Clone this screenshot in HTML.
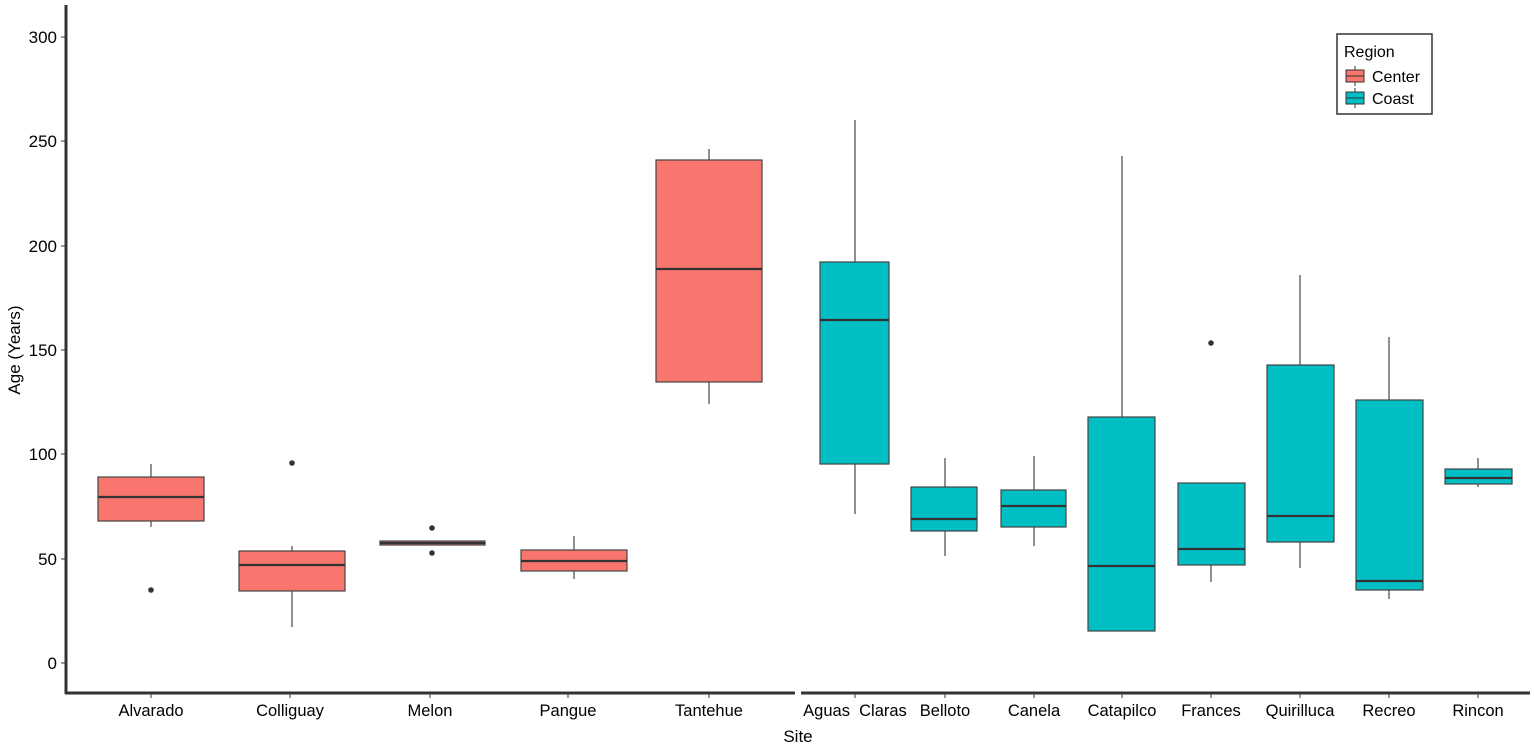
<!DOCTYPE html><html><head><style>body{margin:0;background:#fff}</style></head><body>
<svg width="1535" height="749" xmlns="http://www.w3.org/2000/svg" font-family="Liberation Sans, sans-serif">
<g stroke="#333" stroke-width="3" fill="none">
<line x1="66" y1="5" x2="66" y2="694"/>
<line x1="65" y1="693" x2="795" y2="693"/>
<line x1="801" y1="693" x2="1530" y2="693"/>
</g>
<g font-size="17" fill="#000" text-anchor="end">
<text x="57" y="43">300</text><text x="57" y="147">250</text><text x="57" y="252">200</text><text x="57" y="356">150</text><text x="57" y="460">100</text><text x="57" y="565">50</text><text x="57" y="669">0</text>
</g>
<g stroke="#333" stroke-width="1">
<line x1="61" y1="37" x2="65" y2="37"/><line x1="61" y1="141" x2="65" y2="141"/><line x1="61" y1="246" x2="65" y2="246"/><line x1="61" y1="350" x2="65" y2="350"/><line x1="61" y1="454" x2="65" y2="454"/><line x1="61" y1="559" x2="65" y2="559"/><line x1="61" y1="663" x2="65" y2="663"/>
</g>
<g font-size="16.5" text-anchor="middle">
<text x="151" y="716">Alvarado</text><text x="290" y="716">Colliguay</text><text x="430" y="716">Melon</text><text x="568" y="716">Pangue</text><text x="709" y="716">Tantehue</text><text x="855" y="716" xml:space="preserve">Aguas  Claras</text><text x="945" y="716">Belloto</text><text x="1034" y="716">Canela</text><text x="1122" y="716">Catapilco</text><text x="1211" y="716">Frances</text><text x="1300" y="716">Quirilluca</text><text x="1389" y="716">Recreo</text><text x="1478" y="716">Rincon</text>
</g>
<g stroke="#333" stroke-width="1"><line x1="151" y1="694" x2="151" y2="698"/><line x1="290" y1="694" x2="290" y2="698"/><line x1="430" y1="694" x2="430" y2="698"/><line x1="568" y1="694" x2="568" y2="698"/><line x1="709" y1="694" x2="709" y2="698"/><line x1="855" y1="694" x2="855" y2="698"/><line x1="945" y1="694" x2="945" y2="698"/><line x1="1034" y1="694" x2="1034" y2="698"/><line x1="1122" y1="694" x2="1122" y2="698"/><line x1="1211" y1="694" x2="1211" y2="698"/><line x1="1300" y1="694" x2="1300" y2="698"/><line x1="1389" y1="694" x2="1389" y2="698"/><line x1="1478" y1="694" x2="1478" y2="698"/></g>
<text x="798" y="742" font-size="17" text-anchor="middle">Site</text>
<text transform="translate(20,350) rotate(-90)" font-size="17" text-anchor="middle">Age (Years)</text>
<g stroke="#555" stroke-width="1.3">
<line x1="151" y1="464" x2="151" y2="527"/><line x1="292" y1="546" x2="292" y2="627"/><line x1="574" y1="536" x2="574" y2="579"/><line x1="709" y1="149" x2="709" y2="404"/><line x1="855" y1="120" x2="855" y2="514"/><line x1="945" y1="458" x2="945" y2="556"/><line x1="1034" y1="456" x2="1034" y2="546"/><line x1="1122" y1="156" x2="1122" y2="631"/><line x1="1211" y1="483" x2="1211" y2="582"/><line x1="1300" y1="275" x2="1300" y2="568"/><line x1="1389" y1="337" x2="1389" y2="599"/><line x1="1478" y1="458" x2="1478" y2="487"/>
</g>
<g stroke="#444" stroke-width="1.2" fill="#f8766d">
<rect x="98" y="477" width="106" height="44"/><rect x="239" y="551" width="106" height="40"/><rect x="380" y="541" width="105" height="4"/><rect x="521" y="550" width="106" height="21"/><rect x="656" y="160" width="106" height="222"/>
</g>
<g stroke="#444" stroke-width="1.2" fill="#00bfc4">
<rect x="820" y="262" width="69" height="202"/><rect x="911" y="487" width="66" height="44"/><rect x="1001" y="490" width="65" height="37"/><rect x="1088" y="417" width="67" height="214"/><rect x="1178" y="483" width="67" height="82"/><rect x="1267" y="365" width="67" height="177"/><rect x="1356" y="400" width="67" height="190"/><rect x="1445" y="469" width="67" height="15"/>
</g>
<g stroke="#333" stroke-width="2.2">
<line x1="98" y1="497" x2="204" y2="497"/><line x1="239" y1="565" x2="345" y2="565"/><line x1="380" y1="543" x2="485" y2="543"/><line x1="521" y1="561" x2="627" y2="561"/><line x1="656" y1="269" x2="762" y2="269"/><line x1="820" y1="320" x2="889" y2="320"/><line x1="911" y1="519" x2="977" y2="519"/><line x1="1001" y1="506" x2="1066" y2="506"/><line x1="1088" y1="566" x2="1155" y2="566"/><line x1="1178" y1="549" x2="1245" y2="549"/><line x1="1267" y1="516" x2="1334" y2="516"/><line x1="1356" y1="581" x2="1423" y2="581"/><line x1="1445" y1="478" x2="1512" y2="478"/>
</g>
<g fill="#333"><circle cx="151" cy="590" r="2.8"/><circle cx="292" cy="463" r="2.8"/><circle cx="432" cy="528" r="2.8"/><circle cx="432" cy="553" r="2.8"/><circle cx="1211" cy="343" r="2.8"/></g>
<rect x="1337" y="34" width="95" height="80" fill="#fff" stroke="#333" stroke-width="1.5"/>
<text x="1344" y="57" font-size="16">Region</text>
<line x1="1355" y1="66" x2="1355" y2="86" stroke="#333"/><rect x="1346" y="70" width="18" height="12" fill="#f8766d" stroke="#333"/><line x1="1346" y1="76" x2="1364" y2="76" stroke="#333"/>
<line x1="1355" y1="88" x2="1355" y2="108" stroke="#333"/><rect x="1346" y="92" width="18" height="12" fill="#00bfc4" stroke="#333"/><line x1="1346" y1="98" x2="1364" y2="98" stroke="#333"/>
<text x="1372" y="82" font-size="16">Center</text><text x="1372" y="104" font-size="16">Coast</text>
</svg></body></html>
